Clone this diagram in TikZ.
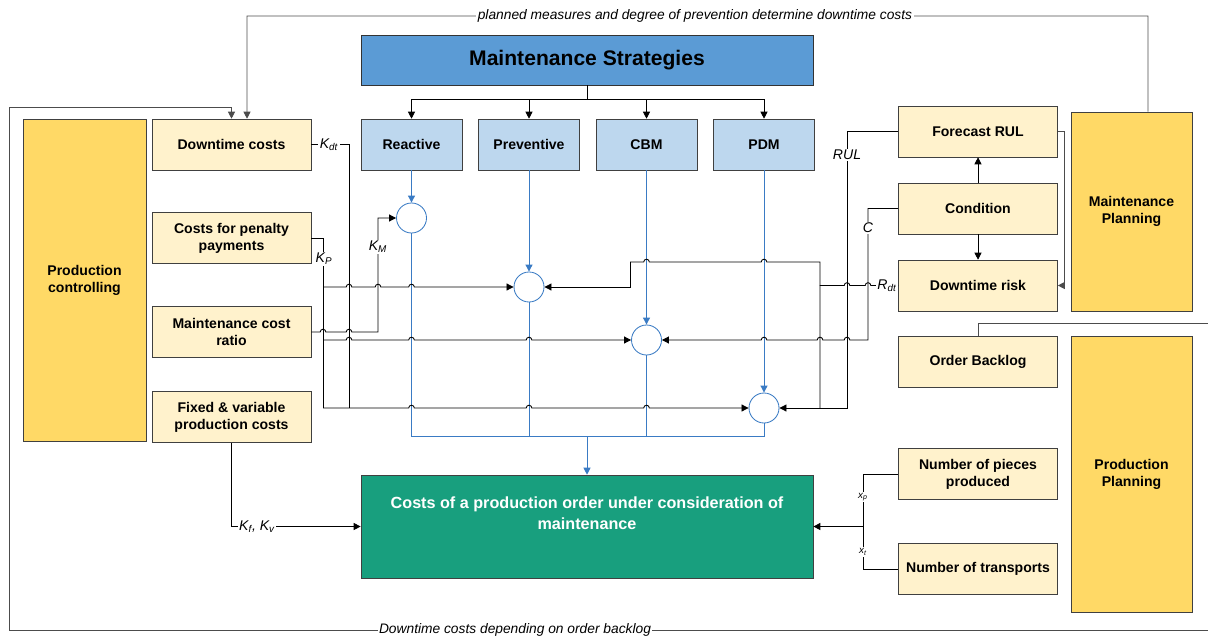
\documentclass[tikz,border=0pt]{standalone}
\usepackage{fontspec}
\setmainfont{Liberation Sans}
\usepackage{tikz}
\usetikzlibrary{arrows.meta,positioning}

\definecolor{stratblue}{HTML}{5B9BD5}
\definecolor{lightblue}{HTML}{BDD7EE}
\definecolor{paleyellow}{HTML}{FFF2CC}
\definecolor{plangold}{HTML}{FFD966}
\definecolor{costgreen}{HTML}{189F7E}
\definecolor{flowblue}{HTML}{3A7BC4}

% line jumps over crossing wires
\newcommand{\jumpr}[1]{-- ([xshift=-2pt]#1) arc[start angle=180,end angle=0,radius=2pt]}
\newcommand{\jumpl}[1]{-- ([xshift=2pt]#1) arc[start angle=0,end angle=180,radius=2pt]}

\begin{document}
\begin{tikzpicture}[
		x=0.025cm, y=-0.025cm,
		box/.style={draw=black!75, fill=paleyellow, minimum width=3.975cm, minimum height=1.275cm, align=center, inner sep=1pt, font=\bfseries\fontsize{10}{12}\selectfont},
		strat/.style={box, fill=lightblue, minimum width=2.525cm},
		side/.style={box, fill=plangold, minimum width=3.025cm},
		sum/.style={circle, draw=flowblue, fill=white, minimum size=0.75cm, inner sep=0pt, line width=0.6pt},
		lbl/.style={fill=white, inner sep=1pt, font=\itshape\fontsize{10}{12}\selectfont},
		small/.style={lbl, font=\itshape\fontsize{7}{8}\selectfont},
		wire/.style={draw=black, line width=0.6pt},
		loop/.style={draw=black!70, line width=0.6pt},
		flow/.style={draw=flowblue, line width=0.7pt},
		>={Triangle[length=5pt,width=5pt]}
		]
	\useasboundingbox (0,0) rectangle (1208,637);

	% Production controlling
	\node[side, minimum width=3.075cm, minimum height=8.05cm] (pctrl) at (84.5,280) {Production\\controlling};
	\node[box] (dtc) at (231.5,144.5) {Downtime costs};
	\node[box] (pen) at (231.5,238) {Costs for penalty\\payments};
	\node[box] (ratio) at (231.5,332) {Maintenance cost\\ratio};
	\node[box] (fix) at (231.5,417) {Fixed \& variable\\production costs};

	% Strategien
	\node[box, fill=stratblue, draw=black!80, minimum width=11.3cm, minimum height=1.25cm, font=\bfseries\fontsize{15}{18}\selectfont] (title) at (587,60) {Maintenance Strategies};
	\node[strat] (react) at (411.5,144.5) {Reactive};
	\node[strat] (prev) at (529,144.5) {Preventive};
	\node[strat] (cbm) at (646.5,144.5) {CBM};
	\node[strat] (pdm) at (764,144.5) {PDM};

	\node[sum] (cR) at (411.5,218) {};
	\node[sum] (cP) at (529,287) {};
	\node[sum] (cC) at (646.5,340) {};
	\node[sum] (cD) at (764,408) {};

	% Kosten
	\node[draw=black!75, fill=costgreen, minimum width=11.3cm, minimum height=2.575cm] (cost) at (587,526.5) {};
	\node[text=white, align=center, font=\bfseries\fontsize{11.5}{15}\selectfont] (costtxt) at ([yshift=0.34cm]cost.center) {Costs of a production order under consideration of\\maintenance};

	% Maintenance / Production planning
	\node[box] (frul) at (978,131.5) {Forecast RUL};
	\node[box] (cond) at (978,208.5) {Condition};
	\node[box] (drisk) at (978,285.5) {Downtime risk};
	\node[box] (obl) at (978,361.5) {Order Backlog};
	\node[box] (pcs) at (978,474) {Number of pieces\\produced};
	\node[box] (trn) at (978,569) {Number of transports};
	\node[side, minimum height=4.975cm] (mplan) at (1131.5,211.5) {Maintenance\\Planning};
	\node[side, minimum height=6.9cm] (pplan) at (1131.5,474) {Production\\Planning};

	% tree
	\draw[wire] (title.south) -- (587,99);
	\foreach \s in {react,prev,cbm,pdm}
		\draw[wire,->] (587,99) -| (\s.north);

	% blue flows
	\foreach \s/\c in {react/cR,prev/cP,cbm/cC,pdm/cD}
		\draw[flow,->] (\s.south) -- (\c.north);
	\draw[flow] (cR.south) -- (411.5,436) -- (764,436) -- (cD.south);
	\draw[flow] (cP.south) -- (529,436);
	\draw[flow] (cC.south) -- (646.5,436);
	\draw[flow,->] (587,436) -- (cost.north);

	% left wires
	\draw[wire] (dtc.east) -| (349,408);
	\node[lbl] (kdt) at (329,144.5) {K\textsubscript{dt}};
	\draw[wire] (pen.east) -| (323,408);
	\node[lbl] (kp) at (324,259) {K\textsubscript{P}};
	\draw[wire,->] (ratio.east) \jumpr{323,332} \jumpr{349,332} -- (378,332) |- (cR.west);
	\node[lbl] (km) at (378,247) {K\textsubscript{M}};
	\draw[wire,->] (323,287) \jumpr{349,287} \jumpr{378,287} \jumpr{411.5,287} -- (cP.west);
	\draw[wire,->] (323,340) \jumpr{349,340} \jumpr{411.5,340} \jumpr{529,340} -- (cC.west);
	\draw[wire,->] (323,408) \jumpr{411.5,408} \jumpr{529,408} \jumpr{646.5,408} -- (cD.west);

	% right wires
	\draw[wire,->] (frul.west) -| (847,408) -- (cD.east);
	\node[lbl] (rul) at (847,155) {RUL};
	\draw[wire,->] (cond.west) -| (868,340) \jumpl{847,340} \jumpl{820,340} \jumpl{764,340} -- (cC.east);
	\node[lbl] (cl) at (868,228) {C};
	\draw[wire] (drisk.west) \jumpl{868,285.5} \jumpl{847,285.5} -- (820,285.5) -- (820,408);
	\node[lbl, anchor=east] (rdt) at (drisk.west) {R\textsubscript{dt}};
	\draw[wire] (630,262) \jumpr{646.5,262} \jumpr{764,262} -- (820,262) -- (820,285.5);
	\draw[wire,->] (630,262) |- (cP.east);

	\draw[wire,->] (cond.north) -- (frul.south);
	\draw[wire,->] (cond.south) -- (drisk.north);
	\draw[loop,->] (frul.east) -| (1064,285.5) -- (drisk.east);

	% bottom inputs
	\draw[wire,->] (fix.south) |- (cost.west);
	\node[lbl] (kfv) at (257,526.5) {K\textsubscript{f}, K\textsubscript{v}};
	\draw[wire] (pcs.west) -| (863,526.5);
	\draw[wire] (trn.west) -| (863,526.5);
	\draw[wire,->] (863,526.5) -- (cost.east);
	\node[small] (xp) at (863,497) {x\textsubscript{p}};
	\node[small] (xt) at (863,552) {x\textsubscript{t}};

	% feedback loops
	\coordinate (edgeA) at (1208,323);
	\coordinate (edgeB) at (1208,630);
	\draw[loop,->] ([xshift=0.4125cm]mplan.north) |- (247,16) -- ([xshift=0.3875cm]dtc.north);
	\node[lbl, font=\itshape\fontsize{9.8}{12}\selectfont] (plan) at (695,16) {planned measures and degree of prevention determine downtime costs};
	\draw[loop] (obl.north) |- (edgeA);
	\draw[loop,->] (edgeB) -| (9,107) -| (dtc.north);
	\node[lbl, font=\itshape\fontsize{9.8}{12}\selectfont] (back) at (515,630) {Downtime costs depending on order backlog};
\end{tikzpicture}
\end{document}
